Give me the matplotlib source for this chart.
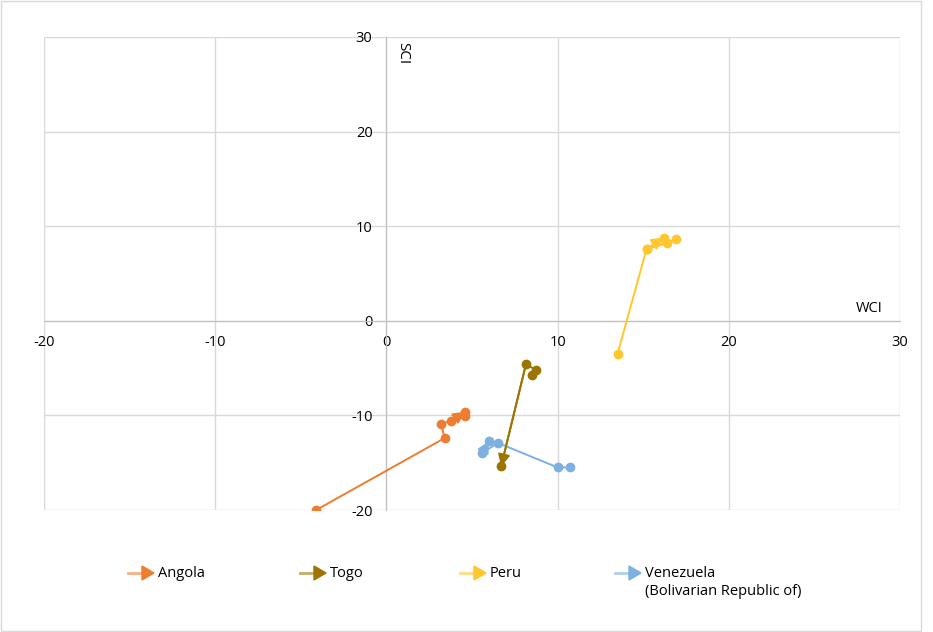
import matplotlib.pyplot as plt
from matplotlib.patches import Rectangle

plt.rcParams['font.family'] = ['Open Sans', 'DejaVu Sans']

# WCI (x) and SCI (y) paths, in time order; the last point gets the arrow
angola_x = [-4.1, 3.4, 3.2, 4.6, 3.8, 4.6]
angola_y = [-20.0, -12.4, -10.9, -10.1, -10.6, -9.6]
togo_x = [8.5, 8.75, 8.15, 6.7]
togo_y = [-5.7, -5.2, -4.6, -15.4]
peru_x = [13.5, 15.2, 16.9, 16.4, 15.2, 16.2]
peru_y = [-3.5, 7.6, 8.6, 8.2, 7.6, 8.8]
venez_x = [10.7, 10.0, 6.5, 5.6, 6.0]
venez_y = [-15.5, -15.5, -12.9, -14.0, -12.7]

names = ['Angola', 'Togo', 'Peru', 'Venezuela\n(Bolivarian Republic of)']
colors = ['#ED7D31', '#9E7400', '#FFC62D', '#7DB0E1']
ticks = [-20, -10, 0, 10, 20, 30]

fig = plt.figure(figsize=(9.33, 6.32), dpi=100)
ax = fig.add_axes([44 / 933, 1 - 510 / 632, 856 / 933, 473 / 632])

series = [(angola_x, angola_y), (togo_x, togo_y), (peru_x, peru_y), (venez_x, venez_y)]
for (xs, ys), c in zip(series, colors):
    ax.plot(xs, ys, color=c, lw=1.4, marker='o', ms=6, zorder=3)
    ax.annotate('', xy=(xs[-1], ys[-1]), xytext=(xs[-2], ys[-2]),
                arrowprops=dict(arrowstyle='-|>', color=c, lw=1.4,
                                mutation_scale=18, shrinkA=0, shrinkB=0),
                zorder=4)

ax.set_xlim(-20, 30)
ax.set_ylim(-20, 30)
ax.set_xticks(ticks)
ax.set_yticks(ticks)
ax.set_xticklabels([str(t) for t in ticks])
ax.set_yticklabels([str(t) for t in ticks])
ax.grid(True, color='#d9d9d9', lw=1)
ax.set_axisbelow(True)
for s in ['top', 'right']:
    ax.spines[s].set_visible(False)
ax.spines['left'].set_position('zero')
ax.spines['bottom'].set_position('zero')
ax.spines['left'].set_color('#bfbfbf')
ax.spines['bottom'].set_color('#bfbfbf')
ax.tick_params(axis='both', length=0, labelsize=10.5, colors='black')
ax.tick_params(axis='y', pad=10)
ax.tick_params(axis='x', pad=10)

ax.text(29.0, 0.5, 'WCI', ha='right', va='bottom', fontsize=10.5)
ax.text(0.5, 29.5, 'SCI', ha='left', va='top', rotation=-90, fontsize=11)

# legend drawn by hand below the plot
leg_x = [128, 300, 460, 615]
leg_y = 1 - 573 / 632
for lx, name, c in zip(leg_x, names, colors):
    fig.add_artist(plt.Line2D([lx / 933, (lx + 18) / 933], [leg_y, leg_y],
                              color=c, lw=2, alpha=0.6))
    fig.patches.append(plt.Polygon([[(lx + 14) / 933, leg_y + 7 / 632],
                                    [(lx + 26) / 933, leg_y],
                                    [(lx + 14) / 933, leg_y - 7 / 632]],
                                   closed=True, color=c,
                                   transform=fig.transFigure, figure=fig))
    fig.text((lx + 30) / 933, leg_y + 7 / 632, name, ha='left', va='top',
             fontsize=10.5, linespacing=1.25)

fig.patches.append(Rectangle((0.001, 0.002), 920 / 933, 0.996, fill=False,
                             edgecolor='#d9d9d9', lw=1,
                             transform=fig.transFigure, figure=fig))

fig.savefig('out.png', dpi=100)
